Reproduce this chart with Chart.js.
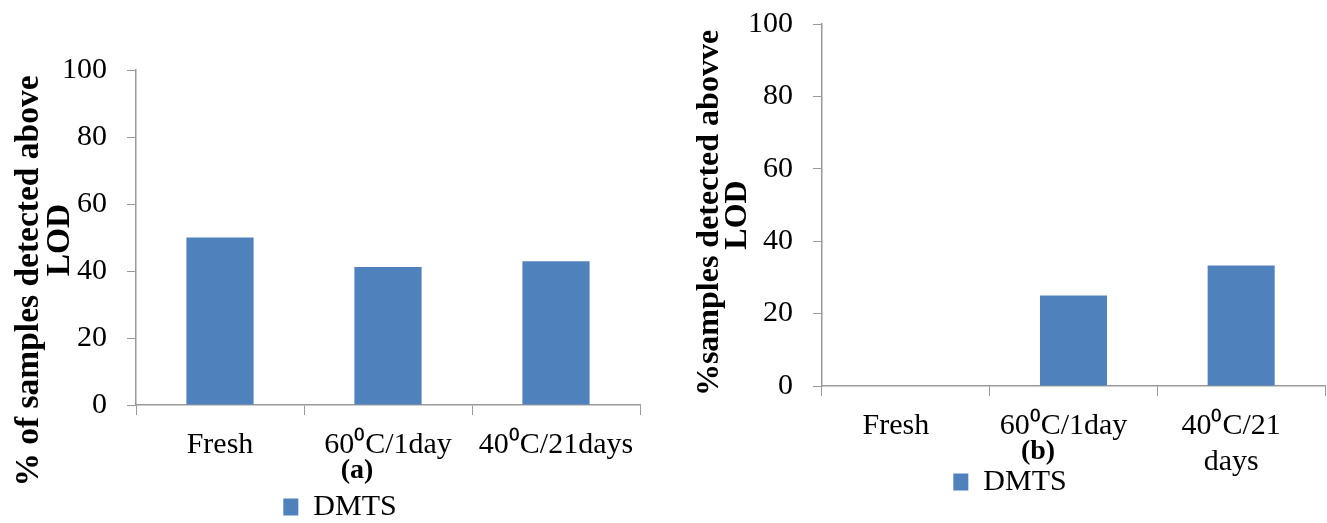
<!DOCTYPE html>
<html>
<head>
<meta charset="utf-8">
<script src="https://cdn.jsdelivr.net/npm/chart.js@4/dist/chart.umd.min.js"></script>
<style>
  html, body { margin: 0; padding: 0; background: #ffffff; overflow: hidden; }
  #wrap { position: relative; width: 1327px; height: 523px; }
  canvas { position: absolute; top: 0; }
  #chartA { left: 0; }
  #chartB { left: 665px; }
</style>
</head>
<body>
<div id="wrap">
  <canvas id="chartA" width="665" height="523"></canvas>
  <canvas id="chartB" width="662" height="523"></canvas>
</div>
<script>
// Detection of DMTS above the limit of detection, by storage condition
const categoriesA = ['Fresh', '60\u2070C/1day', '40\u2070C/21days'];
const categoriesB = ['Fresh', '60\u2070C/1day', ['40\u2070C/21', 'days']];
const dmtsA = [50, 41.2, 42.9];
const dmtsB = [0, 25, 33.3];
const seriesName = 'DMTS';
const yTicks = [0, 20, 40, 60, 80, 100];
const yTitleA = ['% of samples detected above', 'LOD'];
const yTitleB = ['%samples detected abovve', 'LOD'];
const panelA = '(a)';
const panelB = '(b)';

const SERIF = '"Liberation Serif", "Times New Roman", serif';
const AXIS_GREY = '#9a9a9a';
const BAR_BLUE = '#4f81bd';

// Rotated two-line y-axis title and the panel letter under the category axis
const extraText = {
  id: 'extraText',
  afterLayout(chart) {
    // let multi-line category labels run past the axis box instead of being clipped
    chart.scales.x.bottom = chart.height;
  },
  afterDraw(chart, args, opts) {
    const ctx = chart.ctx;
    ctx.save();
    ctx.fillStyle = '#000000';
    ctx.textAlign = 'center';
    ctx.textBaseline = 'alphabetic';
    ctx.font = 'bold ' + opts.titleSize + 'px ' + SERIF;
    opts.lines.forEach(function (line) {
      ctx.save();
      ctx.translate(line.x, line.y);
      ctx.rotate(-Math.PI / 2);
      ctx.fillText(line.text, 0, 0);
      ctx.restore();
    });
    ctx.font = 'bold ' + opts.panelSize + 'px ' + SERIF;
    ctx.textBaseline = 'middle';
    ctx.fillText(opts.panel.text, opts.panel.x, opts.panel.y);
    ctx.restore();
  }
};

function makeChart(id, labels, values, cfg) {
  return new Chart(document.getElementById(id), {
    type: 'bar',
    data: {
      labels: labels,
      datasets: [{
        label: seriesName,
        data: values,
        backgroundColor: BAR_BLUE,
        borderWidth: 0,
        barPercentage: 0.4,
        categoryPercentage: 1.0
      }]
    },
    plugins: [extraText],
    options: {
      responsive: false,
      animation: false,
      devicePixelRatio: 1,
      layout: { padding: cfg.padding },
      scales: {
        x: {
          grid: { display: true, drawOnChartArea: false, drawTicks: true, tickLength: 10, color: AXIS_GREY, offset: true },
          border: { display: true, color: AXIS_GREY, width: 1.5 },
          ticks: {
            color: '#000000',
            font: { family: SERIF, size: 30, lineHeight: 1.2 },
            padding: 12,
            labelOffset: cfg.labelOffset,
            maxRotation: 0,
            minRotation: 0,
            autoSkip: false
          },
          afterFit: function (scale) {
            scale.height = cfg.xHeight;
            scale.paddingLeft = 0;
            scale.paddingRight = 0;
          }
        },
        y: {
          min: 0,
          max: 100,
          afterBuildTicks: function (scale) { scale.ticks = yTicks.map(function (v) { return { value: v }; }); },
          grid: { display: true, drawOnChartArea: false, drawTicks: true, tickLength: 9, color: AXIS_GREY },
          border: { display: true, color: AXIS_GREY, width: 1.5 },
          ticks: {
            color: '#000000',
            font: { family: SERIF, size: 30, lineHeight: 1.2 },
            padding: 20
          },
          afterFit: function (scale) {
            scale.width = cfg.yWidth;
            scale.paddingTop = 0;
            scale.paddingBottom = 0;
          }
        }
      },
      plugins: {
        tooltip: { enabled: false },
        title: { display: false },
        legend: {
          display: true,
          position: 'bottom',
          labels: {
            color: '#000000',
            font: { family: SERIF, size: 30 },
            boxWidth: 15,
            boxHeight: 17,
            padding: cfg.legendPad
          }
        },
        extraText: {
          titleSize: cfg.titleSize,
          panelSize: 28,
          lines: cfg.titleLines,
          panel: cfg.panel
        }
      }
    }
  });
}

makeChart('chartA', categoriesA, dmtsA, {
  padding: { top: 70, left: 40, right: 25, bottom: -9 },
  xHeight: 83,
  yWidth: 96,
  legendPad: 4,
  labelOffset: 0,
  titleSize: 33.5,
  titleLines: [
    { text: yTitleA[0], x: 38, y: 281 },
    { text: yTitleA[1], x: 69, y: 240 }
  ],
  panel: { text: panelA, x: 357, y: 471 }
});

makeChart('chartB', categoriesB, dmtsB, {
  padding: { top: 24, left: 30, right: 2, bottom: 16 },
  xHeight: 78,
  yWidth: 127,
  legendPad: 3,
  labelOffset: -10,
  titleSize: 32,
  titleLines: [
    { text: yTitleB[0], x: 53, y: 213 },
    { text: yTitleB[1], x: 81, y: 215 }
  ],
  panel: { text: panelB, x: 373, y: 452 }
});
</script>
</body>
</html>
